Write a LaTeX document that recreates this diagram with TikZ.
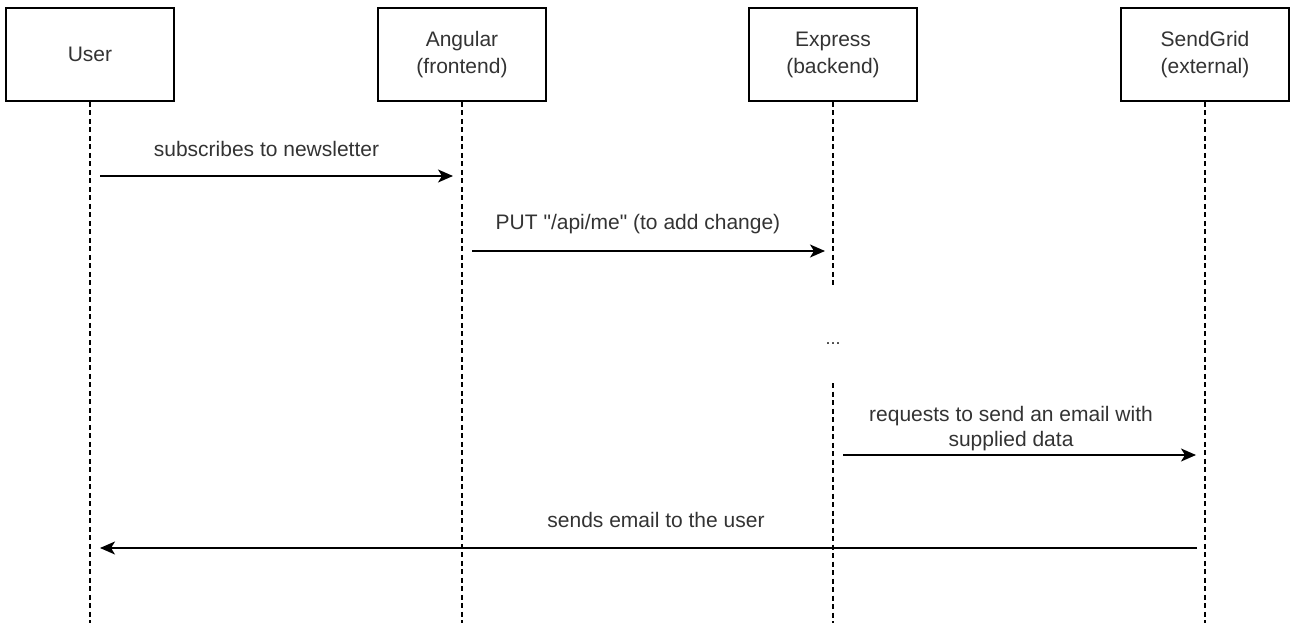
\documentclass[tikz,border=0pt]{standalone}
\usepackage{fontspec}
\setmainfont{Liberation Sans}[Ligatures=TeXOff]
\usetikzlibrary{arrows.meta}
\definecolor{txt}{HTML}{333333}
\tikzset{
  actor/.style={draw=black, line width=1.6pt, minimum width=168pt, minimum height=93pt, inner sep=0pt,
    font=\fontsize{21}{27}\selectfont, text=txt, align=center, fill=white},
  life/.style={draw=black, line width=1.6pt, dash pattern=on 5pt off 3.5pt},
  msg/.style={draw=black, line width=1.6pt, -{Stealth[length=15pt,width=13pt,inset=4pt]}},
  lbl/.style={font=\fontsize{21}{25}\selectfont, text=txt, align=center, inner sep=0pt},
}
\begin{document}
\begin{tikzpicture}[x=1pt,y=-1pt]
\useasboundingbox (0,0) rectangle (1292,623);
% actors
\node[actor] (user) at (90,54.5) {User};
\node[actor] (ang) at (462,54.5) {Angular\\(frontend)};
\node[actor] (exp) at (833,54.5) {Express\\(backend)};
\node[actor] (sg) at (1205,54.5) {SendGrid\\(external)};
% lifeline ends
\coordinate (userEnd) at (90,623);
\coordinate (angEnd) at (462,623);
\coordinate (expGapA) at (833,288);
\coordinate (expGapB) at (833,383);
\coordinate (expEnd) at (833,623);
\coordinate (sgEnd) at (1205,623);
\draw[life] (user.south) -- (userEnd);
\draw[life] (ang.south) -- (angEnd);
\draw[life] (exp.south) -- (expGapA);
\draw[life] (expGapB) -- (expEnd);
\draw[life] (sg.south) -- (sgEnd);
\node[lbl, font=\fontsize{18}{20}\selectfont, anchor=base] (dots) at (833,344) {...};
% message anchors
\coordinate (m1s) at (100,176);
\coordinate (m1e) at (453,176);
\coordinate (m2s) at (472,251);
\coordinate (m2e) at (825,251);
\coordinate (m3s) at (843,455);
\coordinate (m3e) at (1196,455);
\coordinate (m4s) at (1197,548);
\coordinate (m4e) at (100,548);
\draw[msg] (m1s) -- (m1e);
\draw[msg] (m2s) -- (m2e);
\draw[msg] (m3s) -- (m3e);
\draw[msg] (m4s) -- (m4e);
% labels
\node[lbl] (l1) at (266.5,149) {subscribes to newsletter};
\node[lbl] (l2) at (638,224) {PUT "/api/me" (to add change)};
\node[lbl] (l3) at (1011,429) {requests to send an email with\\supplied data};
\node[lbl] (l4) at (656,520) {sends email to the user};
\end{tikzpicture}
\end{document}
